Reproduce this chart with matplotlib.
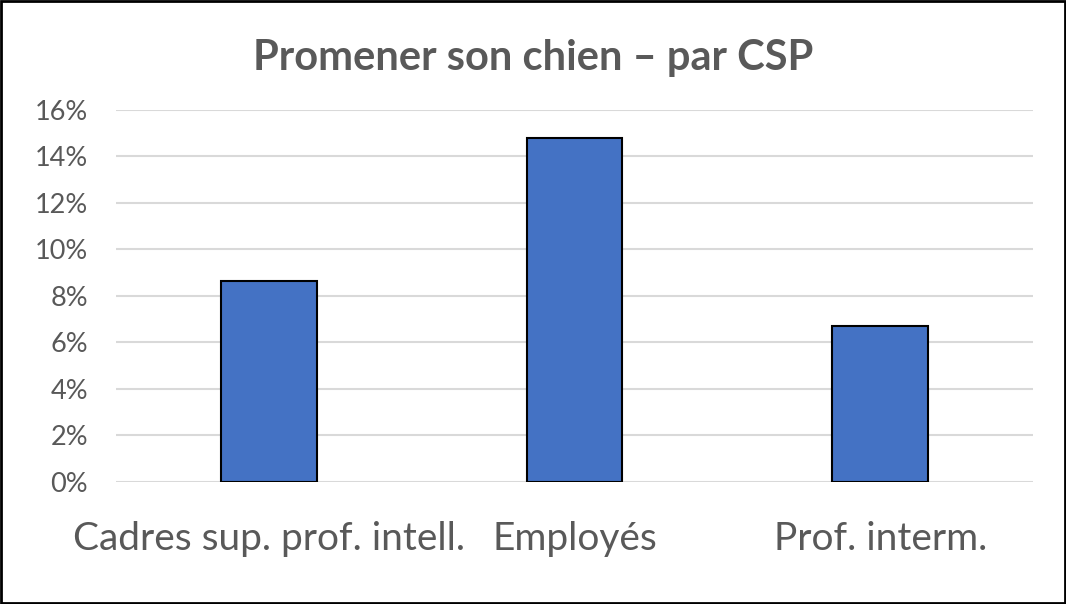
import matplotlib
matplotlib.use("Agg")
import matplotlib.pyplot as plt
from matplotlib.ticker import PercentFormatter

categories = ["Cadres sup. prof. intell.", "Employés", "Prof. interm."]
values = [0.0865, 0.148, 0.067]
yticks = [0, 0.02, 0.04, 0.06, 0.08, 0.10, 0.12, 0.14, 0.16]

plt.rcParams["font.family"] = ["Lato", "DejaVu Sans"]
gris = "#595959"

fig = plt.figure(figsize=(10.66, 6.04), dpi=100)
ax = fig.add_axes([116 / 1066, 1 - 481.7 / 604, (1033 - 116) / 1066, (481.7 - 110) / 604])

x = range(len(categories))
ax.bar(x, values, width=0.314, color="#4472c4", edgecolor="black", linewidth=1.5, zorder=3)

ax.set_xlim(-0.5, len(categories) - 0.5)
ax.set_ylim(0, 0.16)
ax.set_yticks(yticks)
ax.yaxis.set_major_formatter(PercentFormatter(1.0, decimals=0))
ax.set_xticks(list(x))
ax.set_xticklabels(categories)
ax.tick_params(axis="x", length=0, pad=28, labelsize=28, labelcolor=gris)
ax.tick_params(axis="y", length=0, pad=20, labelsize=19.5, labelcolor=gris)
ax.grid(axis="y", color="#d9d9d9", linewidth=1.5, zorder=0)
for s in ax.spines.values():
    s.set_visible(False)

fig.text(0.5, 1 - 70 / 604, "Promener son chien – par CSP", ha="center", va="baseline",
         fontsize=30, fontweight="bold", color=gris)

# cadre noir autour de la figure
fig.patches.append(plt.Rectangle((0.001, 0.002), 0.998, 0.996, transform=fig.transFigure,
                                 fill=False, edgecolor="black", linewidth=2))

fig.savefig("out.png", dpi=100)
